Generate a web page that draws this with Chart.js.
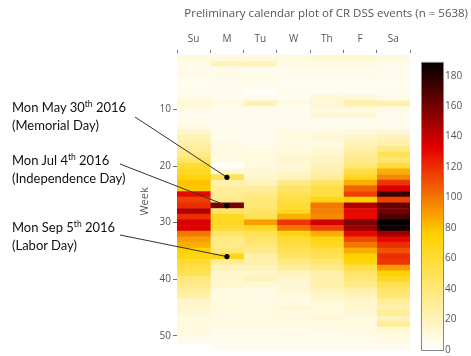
<!DOCTYPE html>
<html>
<head>
<meta charset="utf-8">
<script src="https://cdn.jsdelivr.net/npm/chart.js@4.4.1/dist/chart.umd.min.js"></script>
<style>
  body { margin: 0; background: #fff; }
  #wrap { position: relative; width: 471px; height: 356px; }
  .note { position: absolute; left: 12px; font-family: Lato, "Open Sans", sans-serif; font-size: 13px; line-height: 17.5px; color: #111; white-space: nowrap; }
  .note sup { font-size: 8.5px; line-height: 0; vertical-align: 5px; }
</style>
</head>
<body>
<div id="wrap">
  <canvas id="chart" width="471" height="356"></canvas>
  <div class="note" style="top:99px">Mon May 30<sup>th</sup> 2016<br>(Memorial Day)</div>
  <div class="note" style="top:152px">Mon Jul 4<sup>th</sup> 2016<br>(Independence Day)</div>
  <div class="note" style="top:219px">Mon Sep 5<sup>th</sup> 2016<br>(Labor Day)</div>
</div>
<script>
// jours (colonnes) et semaines (lignes)
const days = ['Su', 'M', 'Tu', 'W', 'Th', 'F', 'Sa'];
const weeks = [1, 2, 3, 4, 5, 6, 7, 8, 9, 10, 11, 12, 13, 14, 15, 16, 17, 18, 19, 20, 21, 22, 23, 24, 25, 26,
               27, 28, 29, 30, 31, 32, 33, 34, 35, 36, 37, 38, 39, 40, 41, 42, 43, 44, 45, 46, 47, 48, 49, 50, 51, 52];

// nombre d'evenements par jour, semaine 1 -> 52
const sun = [10, 6, 5, 8, 4, 5, 5, 8, 12, 8, 5, 5, 8, 15, 22, 25, 30, 35, 45, 60, 65, 72, 80, 78, 130, 115,
             120, 145, 120, 135, 135, 100, 90, 85, 75, 70, 60, 55, 50, 40, 35, 30, 25, 15, 15, 12, 10, 10, 10, 8, 5, 0];
const mon = [10, 20, 5, 8, 6, 5, 5, 5, 8, 5, 5, 5, 5, 5, 5, 8, 8, 10, 8, 2, 12, 50, 25, 30, 30, 35,
             160, 45, 65, 65, 60, 45, 35, 35, 40, 70, 30, 20, 15, 15, 15, 10, 8, 10, 10, 8, 8, 10, 5, 5, 5, 5];
const tue = [10, 20, 5, 6, 6, 5, 2, 5, 22, 5, 5, 5, 5, 5, 5, 5, 8, 10, 10, 10, 12, 15, 20, 30, 35, 40,
             40, 45, 50, 90, 65, 50, 45, 40, 35, 25, 25, 20, 15, 20, 12, 8, 8, 8, 10, 8, 10, 8, 5, 5, 5, 5];
const wed = [10, 8, 5, 6, 4, 5, 5, 5, 8, 5, 5, 5, 5, 8, 10, 8, 10, 12, 15, 12, 15, 20, 35, 45, 50, 55,
             60, 65, 85, 118, 100, 70, 60, 55, 50, 45, 35, 30, 20, 15, 12, 12, 10, 8, 12, 8, 10, 8, 5, 8, 5, 5];
const thu = [14, 8, 5, 6, 4, 5, 5, 12, 12, 10, 12, 5, 5, 8, 12, 10, 12, 15, 18, 20, 25, 30, 45, 55, 55, 70,
             100, 98, 95, 138, 115, 85, 70, 65, 55, 50, 40, 35, 25, 25, 25, 20, 15, 12, 10, 10, 12, 8, 8, 5, 5, 5];
const fri = [14, 8, 5, 6, 4, 5, 5, 12, 25, 10, 12, 5, 5, 10, 15, 20, 25, 30, 35, 40, 55, 65, 85, 105, 115, 75,
             145, 130, 130, 158, 150, 130, 112, 100, 85, 75, 70, 55, 45, 40, 35, 25, 20, 15, 15, 12, 10, 10, 8, 8, 5, 5];
const sat = [10, 6, 5, 6, 4, 5, 5, 6, 25, 8, 5, 5, 5, 12, 20, 25, 35, 50, 42, 58, 85, 95, 118, 135, 175, 115,
             165, 160, 170, 189, 186, 150, 130, 120, 110, 120, 118, 90, 75, 65, 50, 45, 40, 30, 25, 30, 20, 30, 12, 10, 8, 5];
const series = [sun, mon, tue, wed, thu, fri, sat];

const weekTicks = [10, 20, 30, 40, 50];
const colorTicks = [0, 20, 40, 60, 80, 100, 120, 140, 160, 180];
const zMax = 189;

// jours feries marques sur la colonne lundi
const holidayWeeks = [22, 27, 36];
const noteAnchors = [[135, 117], [120, 164], [120, 235]];

// echelle "Hot" inversee
const stops = [[0, [255, 255, 255]], [0.4, [255, 210, 0]], [0.7, [230, 0, 0]], [1, [0, 0, 0]]];
function colorFor(v) {
    const t = Math.max(0, Math.min(1, v / zMax));
    for (let i = 1; i < stops.length; i++) {
        if (t <= stops[i][0]) {
            const a = stops[i - 1], b = stops[i];
            const f = (t - a[0]) / (b[0] - a[0]);
            const c = a[1].map((x, k) => Math.round(x + (b[1][k] - x) * f));
            return `rgb(${c[0]},${c[1]},${c[2]})`;
        }
    }
    return 'rgb(0,0,0)';
}

const datasets = days.map((d, i) => ({
    label: d,
    data: weeks.map(w => ({ x: d, y: [w - 0.5, w + 0.5] })),
    backgroundColor: series[i].map(colorFor),
    borderWidth: 0,
    grouped: false,
    categoryPercentage: 1,
    barPercentage: 1
}));

// barre de couleur + lignes des annotations
const extras = {
    id: 'extras',
    afterDraw(chart) {
        const ctx = chart.ctx;
        const cb = chart.scales.cb;
        const x0 = cb.left + 11, w = 22;
        const yTop = cb.getPixelForValue(zMax), yBot = cb.getPixelForValue(0);
        const g = ctx.createLinearGradient(0, yBot, 0, yTop);
        stops.forEach(s => g.addColorStop(s[0], `rgb(${s[1].join(',')})`));
        ctx.save();
        ctx.fillStyle = g;
        ctx.fillRect(x0, yTop, w, yBot - yTop);
        ctx.strokeStyle = '#888';
        ctx.lineWidth = 1;
        ctx.strokeRect(x0 + 0.5, yTop + 0.5, w, yBot - yTop);

        const xs = chart.scales.x, ys = chart.scales.y;
        holidayWeeks.forEach((wk, i) => {
            const px = xs.getPixelForValue(1);
            const py = ys.getPixelForValue(wk);
            ctx.strokeStyle = '#333';
            ctx.lineWidth = 1;
            ctx.beginPath();
            ctx.moveTo(noteAnchors[i][0], noteAnchors[i][1]);
            ctx.lineTo(px, py);
            ctx.stroke();
            ctx.fillStyle = '#000';
            ctx.beginPath();
            ctx.arc(px, py, 2.6, 0, Math.PI * 2);
            ctx.fill();
        });
        ctx.restore();
    }
};

const tickFont = { family: '"Open Sans", sans-serif', size: 10 };

new Chart(document.getElementById('chart'), {
    type: 'bar',
    data: { labels: days, datasets: datasets },
    options: {
        responsive: false,
        animation: false,
        layout: { padding: { left: 138, right: 3, bottom: 6, top: 0 } },
        plugins: {
            legend: { display: false },
            tooltip: { enabled: false },
            title: {
                display: true,
                text: 'Preliminary calendar plot of CR DSS events (n = 5638)',
                align: 'end',
                color: '#555',
                font: { family: '"Open Sans", sans-serif', size: 11.5, weight: 'normal' },
                padding: { top: 7, bottom: 6 }
            }
        },
        scales: {
            x: {
                type: 'category',
                position: 'top',
                offset: true,
                grid: { drawOnChartArea: false, tickLength: 3, color: '#777' },
                border: { display: false },
                ticks: { color: '#555', font: tickFont, padding: 5 },
                afterFit(s) { s.height = 26; }
            },
            y: {
                type: 'linear',
                reverse: true,
                min: 0,
                max: 52.5,
                afterBuildTicks(s) { s.ticks = weekTicks.map(v => ({ value: v })); },
                grid: { drawOnChartArea: false, tickLength: 4, color: '#777' },
                border: { display: false },
                ticks: { color: '#555', font: tickFont, padding: 2 },
                title: { display: true, text: 'Week', color: '#555', font: { family: '"Open Sans", sans-serif', size: 11 }, padding: 0 },
                afterFit(s) { s.width = 39; s.paddingTop = 0; s.paddingBottom = 0; }
            },
            cb: {
                type: 'linear',
                position: 'right',
                min: 0,
                max: 195,
                afterBuildTicks(s) { s.ticks = colorTicks.map(v => ({ value: v })); },
                grid: { display: false, drawTicks: false },
                border: { display: false },
                ticks: { color: '#555', font: tickFont, padding: 35 },
                afterFit(s) { s.width = 58; s.paddingTop = 0; s.paddingBottom = 0; }
            }
        }
    },
    plugins: [extras]
});
</script>
</body>
</html>
